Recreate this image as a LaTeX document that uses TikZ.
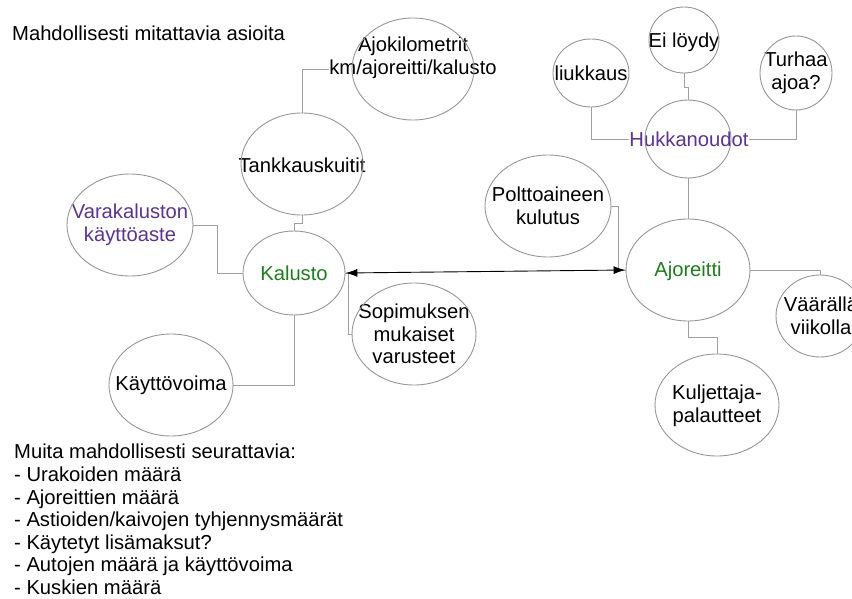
\documentclass[tikz,border=0pt]{standalone}
\usepackage{fontspec}
\setmainfont{Liberation Sans}
\usetikzlibrary{shapes.geometric,arrows.meta}
\definecolor{outline}{RGB}{150,150,150}
\definecolor{wire}{RGB}{160,160,160}
\definecolor{keygreen}{RGB}{30,125,30}
\definecolor{keypurple}{RGB}{92,52,140}
\pgfdeclarelayer{lines}
\pgfdeclarelayer{labels}
\pgfsetlayers{lines,labels,main}
\tikzset{
  bubble/.style={ellipse, draw=outline, line width=0.9pt, inner sep=0pt},
  txt/.style={font=\fontsize{20.2}{22.5}\selectfont, align=center, inner sep=0.5pt, fill=white, text=black},
  plain/.style={font=\fontsize{20.2}{22.6}\selectfont, align=left, inner sep=0pt},
  wirestyle/.style={draw=wire, line width=0.9pt},
  both/.style={draw=black, line width=0.9pt, {Latex[length=12pt,width=8pt]}-{Latex[length=12pt,width=8pt]}}
}
\begin{document}
\begin{tikzpicture}[x=1pt,y=-1pt]
\useasboundingbox (0,0) rectangle (852,599);

% outlines of the bubbles
\node[bubble, minimum width=122, minimum height=102] (ajokm) at (413,69) {};
\node[bubble, minimum width=122, minimum height=102] (tank)  at (302,164) {};
\node[bubble, minimum width=102, minimum height=84]  (kal)   at (294,273) {};
\node[bubble, minimum width=126, minimum height=102] (vara)  at (130,225) {};
\node[bubble, minimum width=124, minimum height=102] (sopi)  at (414,334) {};
\node[bubble, minimum width=124, minimum height=102] (kayt)  at (171,385) {};
\node[bubble, minimum width=124, minimum height=102] (ajor)  at (688,270) {};
\node[bubble, minimum width=126, minimum height=102] (polt)  at (548,206) {};
\node[bubble, minimum width=88,  minimum height=82]  (vaar)  at (820,316) {};
\node[bubble, minimum width=124, minimum height=102] (kulj)  at (717,405) {};
\node[bubble, minimum width=86,  minimum height=78]  (hukka) at (688,139) {};
\node[bubble, minimum width=76,  minimum height=68]  (liuk)  at (591,73) {};
\node[bubble, minimum width=70,  minimum height=66]  (eilo)  at (684,40) {};
\node[bubble, minimum width=72,  minimum height=74]  (turh)  at (796,73) {};

% texts, with a white backing that hides the wires beneath them
\begin{pgfonlayer}{labels}
\node[txt] (ajokm-t) at (413,58) {Ajokilometrit\\km/ajoreitti/kalusto};
\node[txt] (tank-t)  at (302,165) {Tankkauskuitit};
\node[txt, text=keygreen] (kal-t) at (294,273) {Kalusto};
\node[txt, text=keypurple] (vara-t) at (130,225) {Varakaluston\\käyttöaste};
\node[txt] (sopi-t)  at (414,334) {Sopimuksen\\mukaiset\\varusteet};
\node[txt] (kayt-t)  at (171,385) {Käyttövoima};
\node[txt, text=keygreen] (ajor-t) at (688,271) {Ajoreitti};
\node[txt] (polt-t)  at (548,206) {Polttoaineen\\kulutus};
\node[txt] (vaar-t)  at (821,316) {Väärällä\\viikolla};
\node[txt] (kulj-t)  at (717,406) {Kuljettaja-\\palautteet};
\node[txt, text=keypurple] (hukka-t) at (689,139) {Hukkanoudot};
\node[txt] (liuk-t)  at (591,73) {liukkaus};
\node[txt] (eilo-t)  at (684,42) {Ei löydy};
\node[txt] (turh-t)  at (796,73) {Turhaa\\ajoa?};
\end{pgfonlayer}

\node[plain, anchor=west] (title) at (12,33) {Mahdollisesti mitattavia asioita};
\node[plain, anchor=north west] (others) at (14,444) {Muita mahdollisesti seurattavia:\\
- Urakoiden määrä\\
- Ajoreittien määrä\\
- Astioiden/kaivojen tyhjennysmäärät\\
- Käytetyt lisämaksut?\\
- Autojen määrä ja käyttövoima\\
- Kuskien määrä};

% connectors
\begin{pgfonlayer}{lines}
\draw[wirestyle] (tank.north) |- (ajokm.west);
\draw[wirestyle] (tank.south) -- ++(0,8) -| (kal.north);
\draw[wirestyle] (vara.east) -- ++(24,0) |- (kal.west);
\draw[wirestyle] (kal.east) -- ++(3,0) |- (sopi.west);
\draw[wirestyle] (kayt.east) -| (kal.south);
\draw[wirestyle] (polt.east) -- ++(7,0) |- (ajor.west);
\draw[wirestyle] (ajor.east) -| (vaar.north);
\draw[wirestyle] (ajor.south) -- ++(0,16) -| (kulj.north);
\draw[wirestyle] (hukka.south) -- (ajor.north);
\draw[wirestyle] (liuk.south) |- (hukka.west);
\draw[wirestyle] (eilo.south) -- ++(0,14) -| (hukka.north);
\draw[wirestyle] (turh.south) |- (hukka.east);
\end{pgfonlayer}
\draw[both] (kal.east) -- (ajor.west);
\end{tikzpicture}
\end{document}
